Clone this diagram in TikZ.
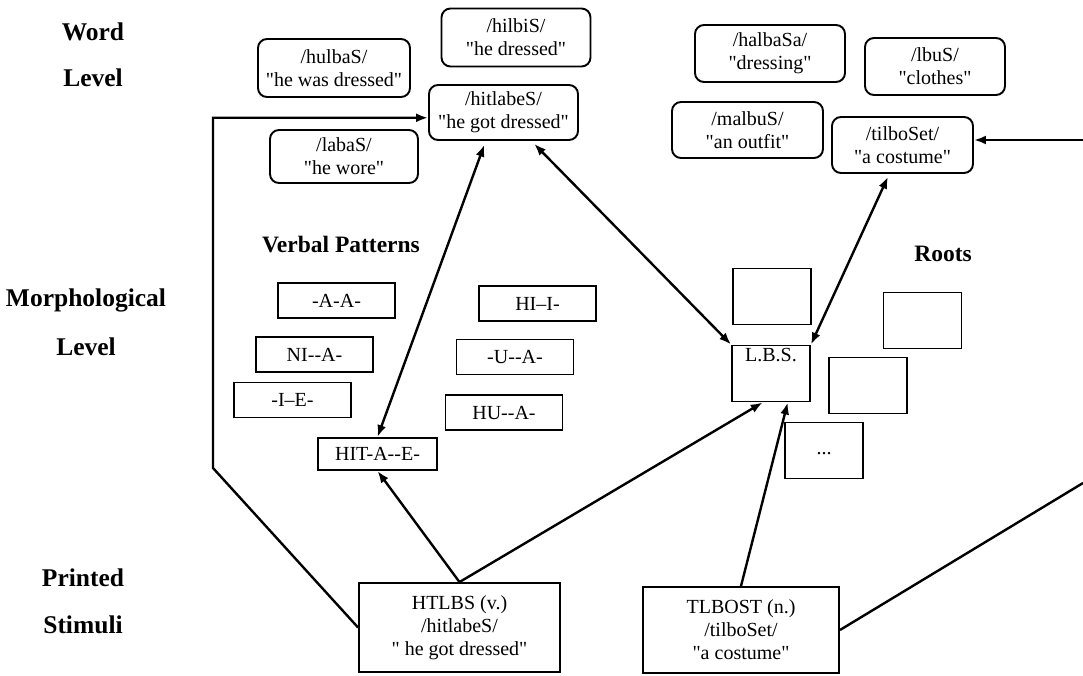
\documentclass[tikz,border=0pt]{standalone}
\usepackage{fontspec}
\setmainfont{Liberation Serif}
\usetikzlibrary{arrows.meta}

\newcommand{\qt}{\textquotedbl}

\tikzset{
  boxfont/.style={font=\fontsize{20}{23}\selectfont},
  wordbox/.style={draw, boxfont, rounded corners=9pt, line width=1.9pt,
    minimum width=149pt, minimum height=56pt, align=center, inner sep=1pt},
  patbox/.style={draw, boxfont, line width=1.9pt,
    minimum width=117pt, minimum height=35pt, inner sep=1pt},
  rootbox/.style={draw, boxfont, line width=1.9pt,
    minimum width=78pt, minimum height=56pt, inner sep=1pt},
  stimbox/.style={draw, boxfont, line width=1.9pt,
    minimum width=200pt, minimum height=88pt, align=center, inner sep=1pt},
  levellabel/.style={font=\bfseries\fontsize{25.5}{28}\selectfont},
  grouplabel/.style={font=\bfseries\fontsize{23.5}{28}\selectfont},
  link/.style={line width=2.4pt},
  linkarrow/.style={-{Latex[length=12pt,width=9pt]}},
  linkboth/.style={{Latex[length=12pt,width=9pt]}-{Latex[length=12pt,width=9pt]}}
}

\begin{document}
\begin{tikzpicture}[x=1pt, y=-1pt]
\useasboundingbox (0,0) rectangle (1083,675);

    % levels
\node[levellabel] (wordA) at (93,32) {Word};
\node[levellabel] (wordB) at (93,78) {Level};
\node[levellabel] (morphA) at (86,300) {Morphological};
\node[levellabel] (morphB) at (86,347) {Level};
\node[levellabel] (printA) at (83,578) {Printed};
\node[levellabel] (printB) at (83,625) {Stimuli};

    % Word level
\node[wordbox, minimum width=152pt, minimum height=58pt] (hulbas) at (334,68) {/hulbaS/\\{\qt}he was dressed{\qt}};
\node[wordbox, minimum height=58pt] (hilbis) at (516,37.5) {/hilbiS/\\{\qt}he dressed{\qt}};
\node[wordbox, minimum height=55pt] (hitlabes) at (503.5,112.5) {/hitlabeS/\\{\qt}he got dressed{\qt}};
\node[wordbox, minimum width=148pt, minimum height=53pt] (labas) at (344,156.5) {/labaS/\\{\qt}he wore{\qt}};
\node[wordbox, minimum width=150pt, minimum height=57pt] (halbasa) at (770,53.5) {/halbaSa/\\{\qt}dressing{\qt}};
\node[wordbox, minimum width=140pt, minimum height=57pt] (lbus) at (935,66.5) {/lbuS/\\{\qt}clothes{\qt}};
\node[wordbox, minimum width=151pt] (malbus) at (747.5,130) {/malbuS/\\{\qt}an outfit{\qt}};
\node[wordbox, minimum width=141pt] (tilboset) at (902.5,145) {/tilboSet/\\{\qt}a costume{\qt}};

    % Verbal patterns
\node[grouplabel] (vplabel) at (341,245) {Verbal Patterns};
\node[patbox] (pAA) at (336.5,300.5) {-A-A-};
\node[patbox] (pHII) at (537.5,303.5) {HI--I-};
\node[patbox] (pNIA) at (314.5,354.5) {NI-{}-A-};
\node[patbox] (pUA) at (515,357) {-U-{}-A-};
\node[patbox] (pIE) at (292.5,400) {-I--E-};
\node[patbox] (pHUA) at (504,412.5) {HU-{}-A-};
\node[patbox, minimum width=119pt, minimum height=32pt] (pHITAE) at (377.5,454) {HIT-A-{}-E-};

    % Roots
\node[grouplabel] (rootlabel) at (943,254) {Roots};
\node[rootbox] (rootA) at (772,296.5) {};
\node[rootbox, label={[boxfont, anchor=north, inner sep=4pt]north:L.B.S.}] (lbs) at (771,373.5) {};
\node[rootbox] (rootB) at (922.5,320.5) {};
\node[rootbox] (rootC) at (868,385.5) {};
\node[rootbox] (rootD) at (824,450.5) {\raisebox{-9pt}{...}};

    % Printed stimuli
\node[stimbox, minimum width=201pt, minimum height=89pt] (htlbs) at (459.5,627.5) {HTLBS (v.)\\/hitlabeS/\\{\qt} he got dressed{\qt}};
\node[stimbox, minimum width=196pt, minimum height=86pt] (tlbost) at (741,630) {TLBOST (n.)\\/tilboSet/\\{\qt}a costume{\qt}};

    % connectors
\coordinate (leftbend) at (213,468);
\coordinate (rightin) at (1083,140);
\coordinate (rightout) at (1083,483);

\draw[link, linkarrow] (htlbs.west) -- (leftbend) |- (hitlabes.184);
\draw[link, linkarrow] (htlbs.north) -- (pHITAE.south);
\draw[link, linkarrow] (htlbs.north) -- (lbs.254);
\draw[link, linkarrow] (tlbost.north) -- (lbs.-60);
\draw[link, linkboth, shorten >=4pt] (pHITAE.north) -- (hitlabes.238);
\draw[link, linkboth, shorten <=4pt] (hitlabes) -- (lbs.north west);
\draw[link, linkboth, shorten <=3pt] (tilboset) -- (lbs.north east);
\draw[link, linkarrow] (rightin) -- (rightin -| tilboset.east);
\draw[link] (tlbost.east) -- (rightout);

\end{tikzpicture}
\end{document}
